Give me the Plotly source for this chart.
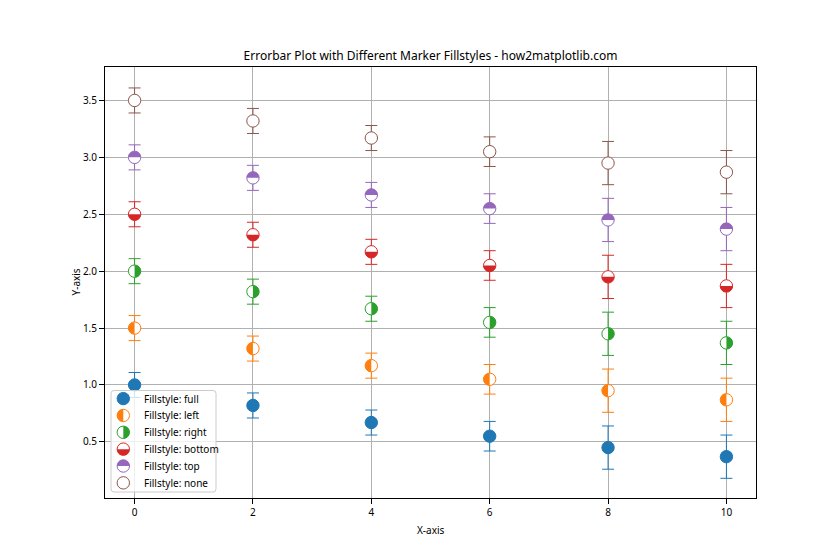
import plotly.graph_objects as go

# ---------------- data ----------------
x_vals = [0, 2, 4, 6, 8, 10]
y_full = [1.00, 0.82, 0.67, 0.55, 0.45, 0.37]
y_left = [1.50, 1.32, 1.17, 1.05, 0.95, 0.87]
y_right = [2.00, 1.82, 1.67, 1.55, 1.45, 1.37]
y_bottom = [2.50, 2.32, 2.17, 2.05, 1.95, 1.87]
y_top = [3.00, 2.82, 2.67, 2.55, 2.45, 2.37]
y_none = [3.50, 3.32, 3.17, 3.05, 2.95, 2.87]
y_err = [0.11, 0.11, 0.11, 0.13, 0.19, 0.19]

fillstyles = ["full", "left", "right", "bottom", "top", "none"]
series_y = [y_full, y_left, y_right, y_bottom, y_top, y_none]
labels = ["Fillstyle: " + f for f in fillstyles]
colors = ["#1f77b4", "#ff7f0e", "#2ca02c", "#d62728", "#9467bd", "#8c564b"]

x_ticks = [0, 2, 4, 6, 8, 10]
y_ticks = [0.5, 1.0, 1.5, 2.0, 2.5, 3.0, 3.5]

# ---------------- layout constants ----------------
# the page body has an 8px margin, so the figure is 8px smaller and shifted
OFF = 8
W, H = 840 - OFF, 560 - OFF
ML, MR, MT, MB = 105 - OFF, 84, 67 - OFF, 62
PW = W - ML - MR
PH = H - MT - MB
R = 6.2  # marker radius px
FONT = "Noto Sans"


def half_path(side, r):
    k = 0.5523 * r
    if side == "top":
        return f"M {-r},0 C {-r},{k} {-k},{r} 0,{r} C {k},{r} {r},{k} {r},0 Z"
    if side == "bottom":
        return f"M {-r},0 C {-r},{-k} {-k},{-r} 0,{-r} C {k},{-r} {r},{-k} {r},0 Z"
    if side == "left":
        return f"M 0,{r} C {-k},{r} {-r},{k} {-r},0 C {-r},{-k} {-k},{-r} 0,{-r} Z"
    if side == "right":
        return f"M 0,{r} C {k},{r} {r},{k} {r},0 C {r},{-k} {k},{-r} 0,{-r} Z"
    return ""


fig = go.Figure()
shapes = []

for fs, ys, lab, col in zip(fillstyles, series_y, labels, colors):
    fig.add_trace(go.Scatter(
        x=x_vals, y=ys, mode="markers", name=lab, showlegend=False,
        marker=dict(symbol="circle", size=2 * R,
                    color=col if fs == "full" else "white",
                    line=dict(color=col, width=1)),
        error_y=dict(type="data", array=y_err, visible=True,
                     color=col, thickness=1, width=6),
    ))
    if fs in ("left", "right", "bottom", "top"):
        for xv, yv in zip(x_vals, ys):
            shapes.append(dict(
                type="path", xref="x", yref="y",
                xsizemode="pixel", ysizemode="pixel",
                xanchor=xv, yanchor=yv,
                path=half_path(fs, R),
                fillcolor=col, line=dict(width=0), layer="above",
            ))

# ---------------- custom legend ----------------
bx0, bx1, by0, by1 = 6, 111, 6, 107.5
rc = 3
box_path = (f"M {bx0 + rc},{by0} L {bx1 - rc},{by0} Q {bx1},{by0} {bx1},{by0 + rc} "
            f"L {bx1},{by1 - rc} Q {bx1},{by1} {bx1 - rc},{by1} "
            f"L {bx0 + rc},{by1} Q {bx0},{by1} {bx0},{by1 - rc} "
            f"L {bx0},{by0 + rc} Q {bx0},{by0} {bx0 + rc},{by0} Z")
shapes.append(dict(type="path", xref="paper", yref="paper",
                   xsizemode="pixel", ysizemode="pixel", xanchor=0, yanchor=0,
                   path=box_path, fillcolor="rgba(255,255,255,0.8)",
                   line=dict(color="#cccccc", width=1), layer="above"))

annotations = []
icon_x = 18.3
row0 = 99.4
row_step = 16.85
for i, (fs, lab, col) in enumerate(zip(fillstyles, labels, colors)):
    ry = row0 - i * row_step
    ax_p = icon_x / PW
    ay_p = ry / PH
    shapes.append(dict(type="circle", xref="paper", yref="paper",
                       xsizemode="pixel", ysizemode="pixel",
                       xanchor=ax_p, yanchor=ay_p, x0=-R, x1=R, y0=-R, y1=R,
                       fillcolor=col if fs == "full" else "white",
                       line=dict(color=col, width=1), layer="above"))
    if fs in ("left", "right", "bottom", "top"):
        shapes.append(dict(type="path", xref="paper", yref="paper",
                           xsizemode="pixel", ysizemode="pixel",
                           xanchor=ax_p, yanchor=ay_p,
                           path=half_path(fs, R),
                           fillcolor=col, line=dict(width=0), layer="above"))
    annotations.append(dict(
        text=lab, xref="paper", yref="paper", x=0, y=0,
        xshift=36.5, yshift=ry, xanchor="left", yanchor="middle",
        showarrow=False, font=dict(family=FONT, size=10, color="black"),
    ))

annotations.append(dict(text="X-axis", xref="paper", yref="paper", x=0.5, y=0,
                        yshift=-32, yanchor="middle", showarrow=False,
                        font=dict(family=FONT, size=10, color="black")))
annotations.append(dict(text="Y-axis", xref="paper", yref="paper", x=0, y=0.5,
                        xshift=-30, xanchor="center", textangle=-90, showarrow=False,
                        font=dict(family=FONT, size=10, color="black")))

axis_common = dict(showgrid=True, gridcolor="#b0b0b0", gridwidth=1,
                   showline=True, linecolor="black", linewidth=1, mirror=True,
                   ticks="outside", ticklen=5, tickcolor="black", tickwidth=1,
                   zeroline=False, tickfont=dict(family=FONT, size=10, color="black"))

fig.update_layout(
    width=W, height=H, autosize=False,
    margin=dict(l=ML, r=MR, t=MT, b=MB),
    paper_bgcolor="white", plot_bgcolor="white",
    title=dict(text="Errorbar Plot with Different Marker Fillstyles - how2matplotlib.com",
               x=(ML + PW / 2) / W, xanchor="center", y=1 - (56 - OFF) / H, yanchor="middle",
               font=dict(family=FONT, size=12, color="black")),
    xaxis=dict(range=[-0.5, 10.5], tickvals=x_ticks,
               ticktext=[str(v) for v in x_ticks], **axis_common),
    yaxis=dict(range=[0.007, 3.794], tickvals=y_ticks,
               ticktext=[f"{v:.1f}" for v in y_ticks], **axis_common),
    shapes=shapes, annotations=annotations, showlegend=False,
)

fig.write_html("out.html")
